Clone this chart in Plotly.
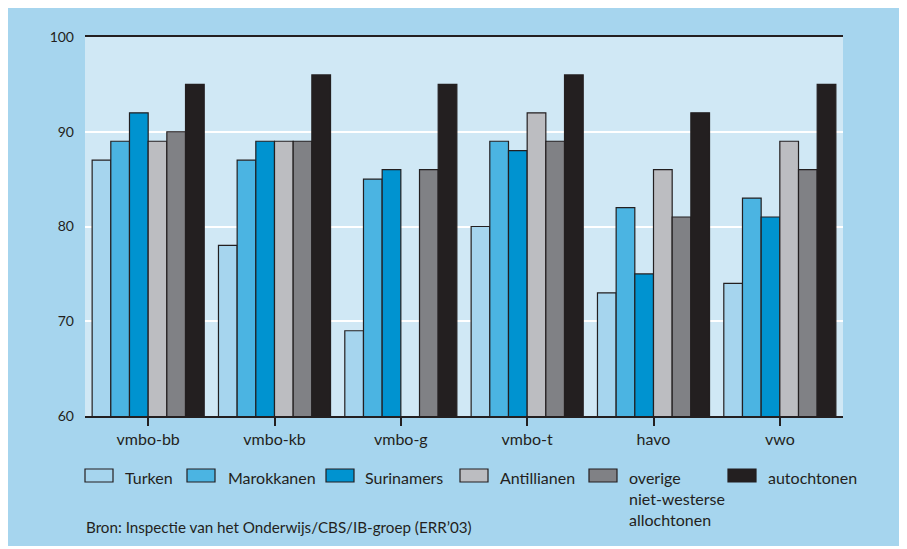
import plotly.graph_objects as go

categories = ["vmbo-bb", "vmbo-kb", "vmbo-g", "vmbo-t", "havo", "vwo"]
series_names = ["Turken", "Marokkanen", "Surinamers", "Antillianen",
                "overige<br>niet-westerse<br>allochtonen", "autochtonen"]
turken = [87, 78, 69, 80, 73, 74]
marokkanen = [89, 87, 85, 89, 82, 83]
surinamers = [92, 89, 86, 88, 75, 81]
antillianen = [89, 89, None, 92, 86, 89]
overige = [90, 89, 86, 89, 81, 86]
autochtonen = [95, 96, 95, 96, 92, 95]
y_ticks = [60, 70, 80, 90, 100]
source_text = "Bron: Inspectie van het Onderwijs/CBS/IB-groep (ERR\u201903)"

values = [turken, marokkanen, surinamers, antillianen, overige, autochtonen]
colors = ["#a6d5ee", "#4bb4e2", "#0093d0", "#bcbdc1", "#808185", "#231f20"]
DARK = "#231f20"
FONT = "Lato"

# page body has an 8px margin; positions below are in screenshot pixels
OFF = 8
W, H = 899, 538
L, R, T, B = 85 - OFF, 843 - OFF, 37 - OFF, 416 - OFF


def px(x):
    return (x - OFF - L) / (R - L)


def py(y):
    return (B - (y - OFF)) / (B - T)


fig = go.Figure()
for name, vals, col in zip(series_names, values, colors):
    fig.add_trace(go.Bar(
        x=categories, y=vals, name=name, marker_color=col,
        marker_line_color=DARK, marker_line_width=1.2, showlegend=False,
    ))

shapes = []
annotations = []
legend_pos = [(85, 123), (187, 226), (326, 363), (460, 498), (589, 627), (728, 766)]
for (bx, tx), name, col in zip(legend_pos, series_names, colors):
    shapes.append(dict(type="rect", xref="paper", yref="paper",
                       x0=px(bx), x1=px(bx + 28), y0=py(482), y1=py(469),
                       fillcolor=col, line=dict(color=DARK, width=1.2)))
    annotations.append(dict(xref="paper", yref="paper", x=px(tx), y=py(466),
                            xanchor="left", yanchor="top", align="left",
                            text=name, showarrow=False,
                            font=dict(family=FONT, size=16, color=DARK)))
annotations.append(dict(xref="paper", yref="paper", x=px(84), y=py(527),
                        xanchor="left", yanchor="middle", text=source_text,
                        showarrow=False, font=dict(family=FONT, size=15.2, color=DARK)))

fig.update_layout(
    width=W, height=H,
    margin=dict(l=L, r=W - R, t=T, b=H - B),
    paper_bgcolor="#a6d5ee",
    plot_bgcolor="#d0e8f5",
    barmode="group", bargap=0.113, bargroupgap=0,
    font=dict(family=FONT, color=DARK, size=15),
    shapes=shapes, annotations=annotations,
    xaxis=dict(showline=True, mirror=True, linecolor=DARK, linewidth=1.5,
               ticks="outside", ticklen=8, tickcolor=DARK, tickwidth=1.5,
               tickfont=dict(size=16, family=FONT, color=DARK), showgrid=False),
    yaxis=dict(range=[60, 100], tickvals=y_ticks, showline=False, zeroline=False,
               gridcolor="white", gridwidth=2, ticks="",
               ticklabelstandoff=10,
               tickfont=dict(size=14, family=FONT, color=DARK)),
)

fig.write_html("out.html")
